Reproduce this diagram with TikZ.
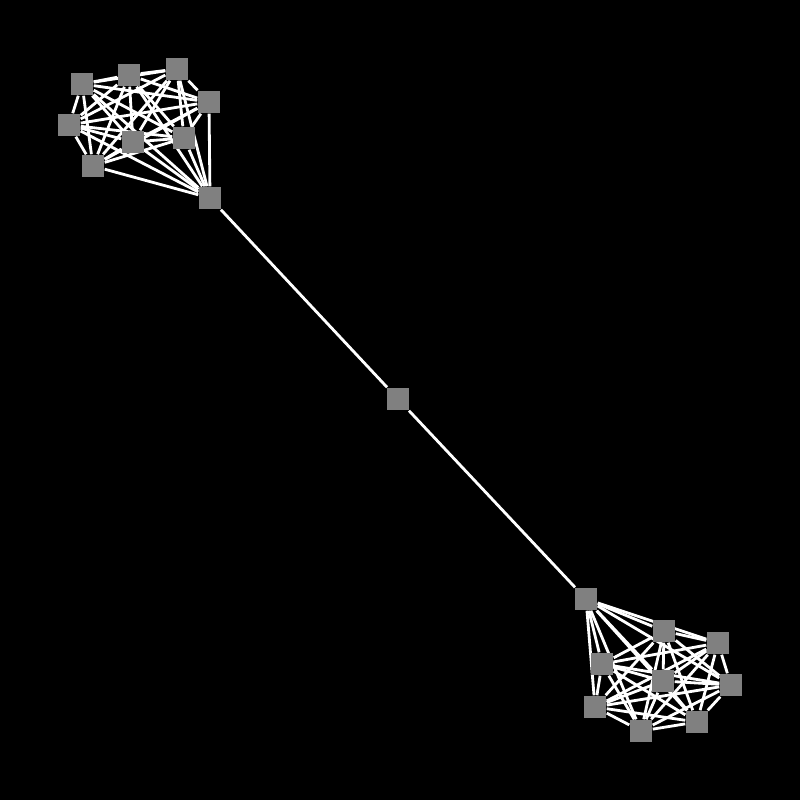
\documentclass[tikz,border=0pt]{standalone}
\usepackage{tikz}

\definecolor{nodegray}{RGB}{128,128,128}
\pgfdeclarelayer{bg}
\pgfdeclarelayer{edges}
\pgfsetlayers{bg,edges,main}

\begin{document}
\begin{tikzpicture}[x=0.01cm,y=-0.01cm]
    \tikzstyle{vert}=[fill=nodegray, minimum size=0.22cm, inner sep=0pt]
    \tikzstyle{edge}=[white, line width=0.8pt]
    \begin{pgfonlayer}{bg}
    \fill [black] (0,0) rectangle (800,800);
    \end{pgfonlayer}
    % left clique
    \node [vert] (a1) at (82,84) {};
    \node [vert] (a2) at (129,75) {};
    \node [vert] (a3) at (177,69) {};
    \node [vert] (a4) at (209,102) {};
    \node [vert] (a5) at (69,125) {};
    \node [vert] (a6) at (133,142) {};
    \node [vert] (a7) at (184,138) {};
    \node [vert] (a8) at (93,166) {};
    \node [vert] (a9) at (210,198) {};
    % path node
    \node [vert] (m) at (398,399) {};
    % right clique
    \node [vert] (b1) at (586,599) {};
    \node [vert] (b2) at (664,631) {};
    \node [vert] (b3) at (718,643) {};
    \node [vert] (b4) at (602,664) {};
    \node [vert] (b5) at (663,681) {};
    \node [vert] (b6) at (731,685) {};
    \node [vert] (b7) at (595,707) {};
    \node [vert] (b8) at (641,731) {};
    \node [vert] (b9) at (697,722) {};
    \begin{pgfonlayer}{edges}
    \foreach \i [evaluate=\i as \k using int(\i+1)] in {1,...,8}
        \foreach \j in {\k,...,9} {
            \draw [edge] (a\i) -- (a\j);
            \draw [edge] (b\i) -- (b\j);
        }
    \draw [edge] (a9) -- (m);
    \draw [edge] (m) -- (b1);
    \end{pgfonlayer}
\end{tikzpicture}
\end{document}
